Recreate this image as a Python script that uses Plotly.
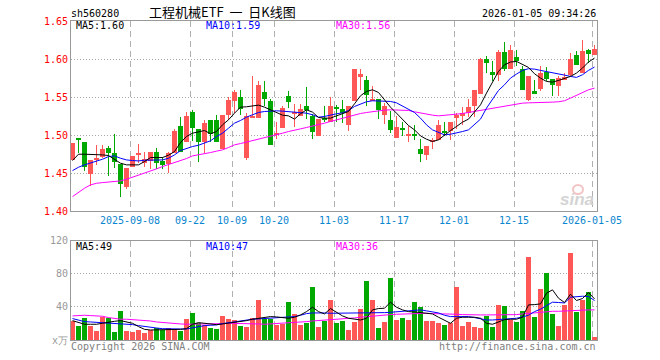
import pandas as pd
import plotly.graph_objects as go

# ---------------- data ----------------
holidays = ["2025-10-01", "2025-10-02", "2025-10-03", "2025-10-06", "2025-10-07",
            "2025-10-08", "2026-01-01", "2026-01-02"]
dates = [d.strftime("%Y-%m-%d") for d in pd.bdate_range("2025-08-25", "2026-01-05")
         if d.strftime("%Y-%m-%d") not in holidays]

tick_dates = ["2025-09-08", "2025-09-22", "2025-10-09", "2025-10-20", "2025-11-03",
              "2025-11-17", "2025-12-01", "2025-12-15", "2026-01-05"]
tick_labels = ["2025-09-08", "09-22", "10-09", "10-20", "11-03",
               "11-17", "12-01", "12-15", "2026-01-05"]

price_ticks = [1.40, 1.45, 1.50, 1.55, 1.60, 1.65]
price_tick_text = ["1.40", "1.45", "1.50", "1.55", "1.60", "1.65"]
vol_ticks = [0, 40, 80, 120]
vol_tick_text = ["x万", "40", "80", "120"]

opens = [1.468, 1.4965, 1.4912, 1.4491, 1.4675, 1.471, 1.4833, 1.4763, 1.4623, 1.4325,
         1.4579, 1.4746, 1.4632, 1.4667, 1.478, 1.4667, 1.4618, 1.4772, 1.5118, 1.4904,
         1.5307, 1.5083, 1.4912, 1.5202, 1.5202, 1.4816, 1.5268, 1.5443, 1.5496, 1.4706,
         1.5228, 1.5232, 1.557, 1.5452, 1.5, 1.5088, 1.5518, 1.5276, 1.5254, 1.5386,
         1.5254, 1.4991, 1.5228, 1.5171, 1.5373, 1.5346, 1.5136, 1.5443, 1.5776, 1.5728,
         1.5452, 1.5478, 1.5268, 1.5202, 1.4969, 1.5088, 1.4996, 1.5009, 1.4816, 1.4741,
         1.4904, 1.4939, 1.5044, 1.5057, 1.5224, 1.5254, 1.5289, 1.5377, 1.5539, 1.60,
         1.5833, 1.5794, 1.6096, 1.5868, 1.6026, 1.5868, 1.5465, 1.5575, 1.5605, 1.5825,
         1.5741, 1.564, 1.5737, 1.5785, 1.6057, 1.5816, 1.6123, 1.6057]
closes = [1.4895, 1.4945, 1.4588, 1.4675, 1.4702, 1.482, 1.4772, 1.4653, 1.436, 1.457,
          1.4728, 1.4772, 1.4684, 1.478, 1.464, 1.4614, 1.4763, 1.5061, 1.4785, 1.5254,
          1.5088, 1.4912, 1.5158, 1.5013, 1.4904, 1.5268, 1.5465, 1.5561, 1.5346, 1.5254,
          1.5254, 1.5662, 1.5478, 1.4873, 1.5031, 1.5355, 1.543, 1.5303, 1.5346, 1.5333,
          1.5048, 1.5219, 1.521, 1.5386, 1.5351, 1.5285, 1.5386, 1.5864, 1.5798, 1.5531,
          1.5478, 1.5333, 1.5377, 1.507, 1.511, 1.5079, 1.5004, 1.5, 1.4759, 1.486,
          1.4939, 1.5136, 1.5035, 1.5175, 1.5268, 1.5298, 1.5368, 1.5596, 1.6004, 1.5947,
          1.5785, 1.6096, 1.5873, 1.6123, 1.5978, 1.5596, 1.5772, 1.5553, 1.5816, 1.5741,
          1.5658, 1.5746, 1.5759, 1.6004, 1.5917, 1.611, 1.607, 1.6136]
highs = [1.4895, 1.4965, 1.4912, 1.4675, 1.4868, 1.4873, 1.486, 1.5013, 1.4623, 1.457,
         1.4728, 1.4886, 1.478, 1.478, 1.4838, 1.4711, 1.478, 1.5079, 1.5237, 1.5307,
         1.5333, 1.5083, 1.5202, 1.5202, 1.5268, 1.5268, 1.55, 1.5596, 1.5596, 1.5298,
         1.5772, 1.5706, 1.5706, 1.5478, 1.5167, 1.5386, 1.5583, 1.5412, 1.5412, 1.5636,
         1.528, 1.5219, 1.5386, 1.5496, 1.5395, 1.5461, 1.5386, 1.5873, 1.5873, 1.5776,
         1.5649, 1.5478, 1.5421, 1.532, 1.5246, 1.5175, 1.5123, 1.5136, 1.4952, 1.486,
         1.4961, 1.5193, 1.5171, 1.5175, 1.5298, 1.5368, 1.5478, 1.5596, 1.6013, 1.6044,
         1.5969, 1.6123, 1.6224, 1.618, 1.6123, 1.5904, 1.5772, 1.5728, 1.5904, 1.5891,
         1.5741, 1.5772, 1.5816, 1.6079, 1.6101, 1.6254, 1.6136, 1.618]
lows = [1.468, 1.476, 1.4535, 1.4333, 1.461, 1.4697, 1.4469, 1.4566, 1.4193, 1.4298,
        1.4579, 1.4632, 1.4579, 1.4553, 1.4561, 1.4561, 1.45, 1.4772, 1.4785, 1.4904,
        1.4921, 1.4645, 1.4772, 1.4904, 1.4904, 1.4816, 1.5202, 1.5289, 1.5268, 1.4675,
        1.5228, 1.5232, 1.5386, 1.4873, 1.4947, 1.5088, 1.5351, 1.5101, 1.5254, 1.5211,
        1.4956, 1.4983, 1.5167, 1.5171, 1.5175, 1.5154, 1.5061, 1.5443, 1.5596, 1.5377,
        1.5452, 1.5215, 1.5145, 1.5035, 1.4969, 1.4991, 1.4917, 1.4939, 1.4654, 1.4675,
        1.4816, 1.4939, 1.4991, 1.4939, 1.5083, 1.5136, 1.5237, 1.5237, 1.5539, 1.5816,
        1.5706, 1.5706, 1.5846, 1.5868, 1.5912, 1.5596, 1.5452, 1.554, 1.5583, 1.5715,
        1.5509, 1.5509, 1.5728, 1.5772, 1.5917, 1.5816, 1.5947, 1.6057]
volumes = [23.4, 17.0, 27.5, 17.0, 10.9, 28.3, 27.5, 9.7, 35.2, 10.9,
           9.7, 12.9, 8.9, 12.9, 15.4, 12.9, 15.4, 13.7, 11.7, 25.5,
           32.7, 21.4, 18.6, 14.5, 13.3, 29.1, 25.5, 24.2, 17.8, 15.8,
           27.1, 48.5, 25.9, 25.5, 18.6, 20.0, 46.1, 31.5, 18.2, 21.0,
           64.2, 15.8, 23.0, 48.5, 21.0, 23.4, 12.5, 21.8, 37.6, 71.5,
           48.5, 14.9, 21.8, 75.2, 24.6, 27.1, 24.2, 46.1, 40.0, 23.4,
           23.4, 20.6, 18.2, 21.0, 64.2, 17.0, 21.8, 15.8, 14.5, 29.5,
           15.8, 42.4, 41.2, 24.2, 21.8, 35.2, 101.0, 27.9, 61.8, 81.2,
           31.5, 17.0, 42.4, 105.5, 33.9, 48.5, 58.2, 3.6]

ma5 = [1.4667, 1.4750, 1.4750, 1.4750, 1.4750, 1.4741, 1.4733, 1.4684, 1.4632, 1.4610,
       1.4610, 1.4610, 1.4653, 1.4706, 1.4706, 1.4706, 1.4737, 1.4785, 1.4904, 1.4983,
       1.5026, 1.5048, 1.5061, 1.5018, 1.5048, 1.5136, 1.5202, 1.5289, 1.5368, 1.5373,
       1.5382, 1.5395, 1.5368, 1.5333, 1.5289, 1.5263, 1.5254, 1.5211, 1.5281, 1.5333,
       1.5303, 1.5232, 1.5224, 1.5224, 1.5254, 1.5281, 1.5311, 1.5412, 1.5518, 1.5575,
       1.5596, 1.5561, 1.5465, 1.5368, 1.5289, 1.5211, 1.5127, 1.5070, 1.4991, 1.4947,
       1.4917, 1.4939, 1.5004, 1.5061, 1.5114, 1.5171, 1.5211, 1.5311, 1.5399, 1.5553,
       1.5706, 1.5838, 1.5925, 1.5961, 1.5969, 1.5934, 1.5890, 1.5807, 1.5750, 1.5706,
       1.5697, 1.5719, 1.5746, 1.5772, 1.5816, 1.5882, 1.5961, 1.6013]
ma10 = [1.4535, 1.4579, 1.4610, 1.4632, 1.4653, 1.4684, 1.4719, 1.4728, 1.4697, 1.4675,
        1.4667, 1.4662, 1.4671, 1.4675, 1.4675, 1.4675, 1.4697, 1.4741, 1.4798, 1.4829,
        1.4851, 1.4868, 1.4895, 1.4926, 1.4983, 1.5026, 1.5092, 1.5158, 1.5193, 1.5237,
        1.5268, 1.5298, 1.5311, 1.5316, 1.5320, 1.5316, 1.5307, 1.5298, 1.5294, 1.5289,
        1.5268, 1.5237, 1.5246, 1.5268, 1.5281, 1.5294, 1.5325, 1.5377, 1.5412, 1.5439,
        1.5452, 1.5452, 1.5452, 1.5443, 1.5425, 1.5386, 1.5346, 1.5298, 1.5224, 1.5136,
        1.5070, 1.5035, 1.5004, 1.5013, 1.5026, 1.5048, 1.5070, 1.5136, 1.5211, 1.5355,
        1.5465, 1.5588, 1.5662, 1.5750, 1.5803, 1.5851, 1.5873, 1.5868, 1.5851, 1.5838,
        1.5825, 1.5811, 1.5789, 1.5772, 1.5759, 1.5794, 1.5851, 1.5895]
ma30 = [1.4193, 1.4250, 1.4303, 1.4347, 1.4368, 1.4377, 1.4386, 1.4390, 1.4399, 1.4421,
        1.4447, 1.4474, 1.4500, 1.4526, 1.4557, 1.4588, 1.4614, 1.4636, 1.4658, 1.4693,
        1.4728, 1.4741, 1.4754, 1.4772, 1.4790, 1.4807, 1.4838, 1.4873, 1.4890, 1.4908,
        1.4926, 1.4947, 1.4965, 1.4983, 1.5004, 1.5026, 1.5048, 1.5070, 1.5083, 1.5101,
        1.5118, 1.5136, 1.5158, 1.5180, 1.5202, 1.5219, 1.5241, 1.5263, 1.5285, 1.5298,
        1.5311, 1.5325, 1.5329, 1.5333, 1.5333, 1.5329, 1.5325, 1.5307, 1.5289, 1.5276,
        1.5263, 1.5254, 1.5259, 1.5268, 1.5276, 1.5285, 1.5298, 1.5311, 1.5329, 1.5346,
        1.5360, 1.5373, 1.5386, 1.5399, 1.5412, 1.5421, 1.5425, 1.5425, 1.5430, 1.5430,
        1.5434, 1.5439, 1.5452, 1.5487, 1.5526, 1.5561, 1.5596, 1.5618]

vol_ma5 = [23.4, 21.0, 19.0, 19.0, 19.0, 20.2, 21.8, 22.6, 23.4, 22.2,
           20.2, 16.2, 12.9, 12.1, 12.1, 12.1, 12.5, 12.9, 12.9, 13.7,
           19.0, 21.0, 20.2, 19.4, 18.6, 19.4, 20.2, 21.0, 22.2, 23.4,
           25.1, 26.3, 27.1, 28.3, 27.9, 27.1, 26.3, 27.5, 30.3, 34.3,
           39.6, 34.3, 31.5, 38.0, 33.1, 29.1, 26.3, 25.1, 24.2, 26.3,
           36.4, 38.0, 38.4, 45.7, 39.6, 36.4, 34.3, 33.9, 33.1, 32.3,
           31.5, 27.5, 23.4, 20.2, 26.3, 27.5, 27.5, 27.5, 26.3, 20.2,
           19.0, 21.8, 24.6, 25.1, 25.1, 27.5, 42.4, 42.8, 43.6, 56.6,
           60.6, 50.5, 45.3, 55.4, 47.7, 50.1, 57.4, 49.7]
vol_ma10 = [25.9, 23.8, 22.2, 21.8, 21.4, 21.0, 20.6, 20.2, 19.8, 19.4,
            18.6, 17.4, 16.2, 15.4, 14.5, 13.7, 13.3, 13.3, 13.3, 13.3,
            14.9, 16.6, 17.4, 17.8, 18.2, 19.8, 21.0, 21.8, 23.0, 24.2,
            25.1, 25.5, 25.9, 26.3, 26.3, 26.7, 27.1, 28.3, 29.9, 31.9,
            32.7, 33.1, 32.7, 32.3, 32.3, 32.3, 32.3, 32.3, 32.7, 32.7,
            32.7, 33.1, 33.1, 33.5, 33.9, 34.7, 35.2, 35.6, 36.4, 35.2,
            33.9, 32.7, 29.9, 28.3, 28.3, 28.3, 28.3, 27.1, 25.9, 24.2,
            24.2, 24.6, 25.1, 25.9, 26.3, 27.9, 29.9, 34.3, 37.2, 41.6,
            45.7, 45.3, 44.8, 51.7, 52.5, 52.9, 52.5, 47.7]
vol_ma30 = [29.1, 29.9, 29.9, 29.5, 29.1, 28.7, 27.1, 25.9, 25.1, 25.1,
            24.6, 24.6, 24.2, 23.0, 21.8, 21.0, 20.2, 19.8, 19.4, 19.0,
            19.0, 19.0, 19.0, 19.0, 19.4, 19.8, 20.2, 20.2, 19.8, 19.8,
            19.4, 19.4, 19.0, 19.4, 19.4, 19.8, 20.2, 20.6, 21.4, 22.2,
            23.0, 23.4, 24.2, 25.1, 25.5, 25.9, 26.3, 26.7, 27.5, 28.3,
            29.1, 29.5, 30.3, 30.7, 31.1, 31.5, 31.9, 31.9, 32.3, 32.3,
            31.9, 31.9, 31.5, 31.5, 31.1, 30.7, 30.3, 30.3, 30.3, 30.3,
            30.3, 30.3, 30.3, 30.3, 30.7, 31.5, 32.3, 33.1, 33.9, 34.3,
            34.7, 34.7, 35.2, 35.6, 36.0, 36.4, 36.4, 36.4]

# ---------------- styling ----------------
RED = "#ff5656"
GREEN = "#00a800"
MONO = "DejaVu Sans Mono"
W, H = 660, 360
ML, MR, MT, MB = 71, 63, 21, 20
PW, PH = W - ML - MR, H - MT - MB

x = list(range(len(dates)))
colors = [RED if c >= o else GREEN for o, c in zip(opens, closes)]
body_base = [min(o, c) for o, c in zip(opens, closes)]
body_h = [max(abs(c - o), 0.0013) for o, c in zip(opens, closes)]
wick_h = [h - l for h, l in zip(highs, lows)]

fig = go.Figure()
fig.add_trace(go.Bar(x=x, y=wick_h, base=lows, width=1 / 6, marker=dict(color=colors, line=dict(width=0)),
                     xaxis="x", yaxis="y"))
fig.add_trace(go.Bar(x=x, y=body_h, base=body_base, width=5 / 6, marker=dict(color=colors, line=dict(width=0)),
                     xaxis="x", yaxis="y"))
fig.add_trace(go.Bar(x=x, y=volumes, width=5 / 6, marker=dict(color=colors, line=dict(width=0)),
                     xaxis="x2", yaxis="y2"))

for series, col in [(ma30, "#ff00ff"), (ma10, "#0000ff"), (ma5, "#000000")]:
    fig.add_trace(go.Scatter(x=x, y=series, mode="lines", line=dict(color=col, width=1),
                             xaxis="x", yaxis="y"))
for series, col in [(vol_ma30, "#ff00ff"), (vol_ma10, "#0000ff"), (vol_ma5, "#000000")]:
    fig.add_trace(go.Scatter(x=x, y=series, mode="lines", line=dict(color=col, width=1),
                             xaxis="x2", yaxis="y2"))

tickpos = [dates.index(d) - 2.5 / 6 for d in tick_dates]
xr = [-0.25, len(dates) - 1 + 2.5 / 6]

main_dom = [(H - MB - 211.3) / PH, 1.0]
vol_dom = [0.0, (H - MB - 240.7) / PH]

grid_v = dict(showgrid=True, gridcolor="#b0b0b0", gridwidth=1, griddash="6px,4px")
grid_h = dict(showgrid=True, gridcolor="#a8a8a8", gridwidth=1, griddash="1px,2px")
frame = dict(showline=True, linecolor="#999999", linewidth=1, mirror=True, zeroline=False, ticks="")

fig.update_layout(
    width=W, height=H, margin=dict(l=ML, r=MR, t=MT, b=MB, autoexpand=False),
    paper_bgcolor="white", plot_bgcolor="white",
    barmode="overlay", showlegend=False, hovermode=False, bargap=0,
    xaxis=dict(domain=[0, 1], anchor="y", range=xr, tickmode="array", tickvals=tickpos,
               ticktext=tick_labels, tickfont=dict(family=MONO, size=10, color="#0a86d0"),
               automargin=False, **grid_v, **frame),
    yaxis=dict(domain=main_dom, anchor="x", range=[1.40, 1.65], tickmode="array",
               tickvals=price_ticks, ticktext=price_tick_text,
               tickfont=dict(family=MONO, size=10, color="#ff0000"),
               automargin=False, **grid_h, **frame),
    xaxis2=dict(domain=[0, 1], anchor="y2", range=xr, tickmode="array", tickvals=tickpos,
                showticklabels=False, automargin=False, **grid_v, **frame),
    yaxis2=dict(domain=vol_dom, anchor="x2", range=[0, 120], tickmode="array",
                tickvals=vol_ticks, ticktext=vol_tick_text,
                tickfont=dict(family=MONO, size=10, color="#999999"),
                automargin=False, **grid_h, **frame),
)


def px(xp):
    return (xp - ML) / PW


def py(yp):
    return (H - MB - yp) / PH


def note(text, xp, yp, color="#000000", anchor="left", size=10, family=MONO):
    fig.add_annotation(text=text, x=px(xp), y=py(yp), xref="paper", yref="paper",
                       xanchor=anchor, yanchor="middle", showarrow=False,
                       font=dict(family=family, size=size, color=color))


note("sh560280", 69, 13)
note("工程机械ETF\u00a0\u00a0一\u00a0\u00a0日K线图", 223, 12, anchor="center", size=13,
     family="Noto Sans CJK SC")
note("2026-01-05 09:34:26", 598, 13, anchor="right")
note(f"MA5:{ma5[-1]:.2f}", 74, 26)
note(f"MA10:{ma10[-1]:.2f}", 204, 26, color="#0000ff")
note(f"MA30:{ma30[-1]:.2f}", 334, 26, color="#ff00ff")
note("MA5:49", 74, 246)
note("MA10:47", 204, 246, color="#0000ff")
note("MA30:36", 334, 246, color="#ff00ff")
note("Copyright 2026 SINA.COM", 69, 346, color="#808080")
note("http://finance.sina.com.cn", 598, 346, color="#808080", anchor="right")
# faded sina watermark
note("<b><i>sina</i></b>", 596, 200, color="#d4d4d4", anchor="right", size=17, family="Liberation Sans")
fig.add_shape(type="circle", xref="paper", yref="paper",
              x0=px(573), x1=px(583), y0=py(194), y1=py(185),
              line=dict(color="#f3c4c4", width=2))

fig.write_html("out.html", config={"displayModeBar": False},
               post_script="document.body.style.margin='0';document.body.style.padding='0';")
